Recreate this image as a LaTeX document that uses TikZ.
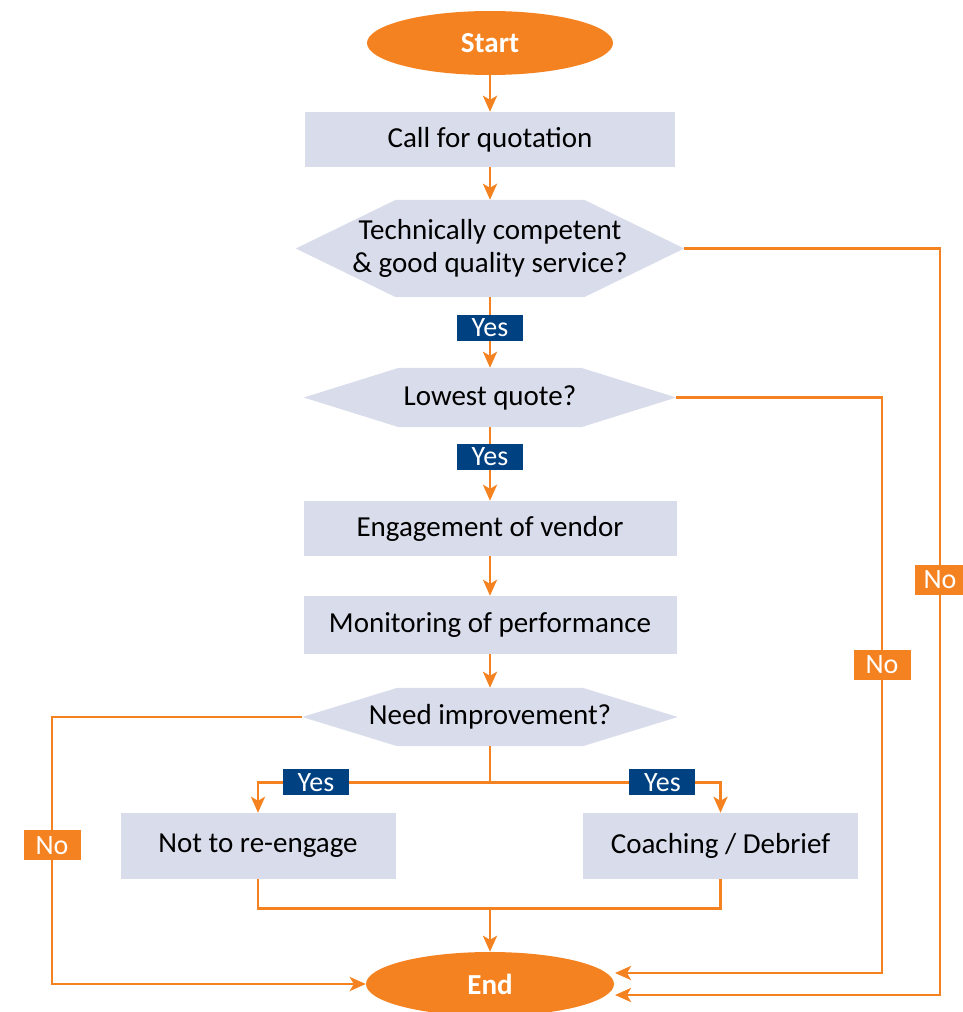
\documentclass[tikz,border=0pt]{standalone}
\usepackage{fontspec}
\setmainfont{Carlito}
\usetikzlibrary{arrows.meta,calc,backgrounds,shapes.geometric}
\definecolor{flowOrange}{RGB}{245,130,32}
\definecolor{boxGrey}{RGB}{217,221,235}
\definecolor{yesBlue}{RGB}{0,65,130}
\tikzset{
  terminal/.style={ellipse, fill=flowOrange, text=white, inner sep=0pt,
    minimum width=246pt, minimum height=64pt, font=\fontsize{29}{35}\selectfont\bfseries},
  process/.style={rectangle, fill=boxGrey, inner sep=0pt, align=center,
    minimum height=55pt, font=\fontsize{29}{35}\selectfont},
  decision/.style={rectangle, inner sep=0pt, align=center, font=\fontsize{29}{33}\selectfont},
  yeslabel/.style={fill=yesBlue, text=white, inner sep=0pt,
    minimum width=66pt, minimum height=26pt, font=\fontsize{28}{30}\selectfont},
  nolabel/.style={fill=flowOrange, text=white, inner sep=0pt,
    minimum width=57pt, minimum height=30pt, font=\fontsize{28}{30}\selectfont},
  link/.style={draw=flowOrange, line width=2.9pt},
  flow/.style={link, -{Stealth[length=16pt,width=14pt,inset=4pt]}},
}
\begin{document}
\begin{tikzpicture}[x=1pt,y=-1pt]
    \useasboundingbox (0,0) rectangle (963,1012);

    % main column
    \node[terminal] (start) at (490,43) {Start};
    \node[process, minimum width=370pt] (call) at (490,139.5) {Call for quotation};
    \node[decision, minimum width=388pt, minimum height=97pt] (tech) at (490,248.5)
    {Technically competent\\\& good quality service?};
    \node[decision, minimum width=372pt, minimum height=59pt] (low) at (490,397.5) {Lowest quote?};
    \node[process, minimum width=373pt] (engage) at (490,528.5) {Engagement of vendor};
    \node[process, minimum width=373pt, minimum height=58pt] (monitor) at (490,625)
    {Monitoring of performance};
    \node[decision, minimum width=375pt, minimum height=58pt] (need) at (490,717) {Need improvement?};

    % outcomes
    \node[process, minimum width=275pt, minimum height=66pt] (drop) at (258,846) {Not to re-engage};
    \node[process, minimum width=275pt, minimum height=66pt] (coach) at (720.5,846) {Coaching / Debrief};
    \node[terminal, minimum width=248pt] (finish) at (490,984) {End};

    % hexagons behind the decision texts
    \begin{scope}[on background layer]
      \foreach \n/\d in {tech/100, low/95, need/95}
        \fill[boxGrey] (\n.west) -- ($(\n.north west)+(\d,0)$) -- ($(\n.north east)-(\d,0)$)
          -- (\n.east) -- ($(\n.south east)-(\d,0)$) -- ($(\n.south west)+(\d,0)$) -- cycle;
    \end{scope}

    \coordinate (split) at ($(need.south)+(0,36)$);
    \coordinate (merge) at ($(finish.north)+(0,-43)$);
    \coordinate (leftrail) at (52,984);
    \coordinate (midrail) at (882,973);
    \coordinate (outrail) at (940,995);
    \coordinate (finishA) at (615,973);
    \coordinate (finishB) at (615,995);

    \draw[flow] (start) -- (call);
    \draw[flow] (call) -- (tech);
    \draw[flow] (tech.south) -- node[yeslabel, pos=0.43] (yesA) {Yes} (low.north);
    \draw[flow] (low.south) -- node[yeslabel, pos=0.405] (yesB) {Yes} (engage.north);
    \draw[flow] (engage) -- (monitor);
    \draw[flow] (monitor) -- (need);

    \draw[link] (need.south) -- (split);
    \draw[flow] (split) -| node[yeslabel, pos=0.375] (yesC) {Yes} (drop.north);
    \draw[flow] (split) -| node[yeslabel, pos=0.374] (yesD) {Yes} (coach.north);

    \draw[link] (drop.south) |- (merge) -| (coach.south);
    \draw[flow] (merge) -- (finish.north);

    % the three "No" returns
    \draw[flow] (need.west) -| node[nolabel, pos=0.74] (noA) {No} (leftrail) -- (finish.west);
    \draw[flow] (low.east) -| node[nolabel, pos=0.732] (noB) {No} (midrail) -- (finishA);
    \draw[flow] (tech.east) -| node[nolabel, minimum width=50pt, pos=0.722] (noC) {No} (outrail) -- (finishB);
\end{tikzpicture}
\end{document}
